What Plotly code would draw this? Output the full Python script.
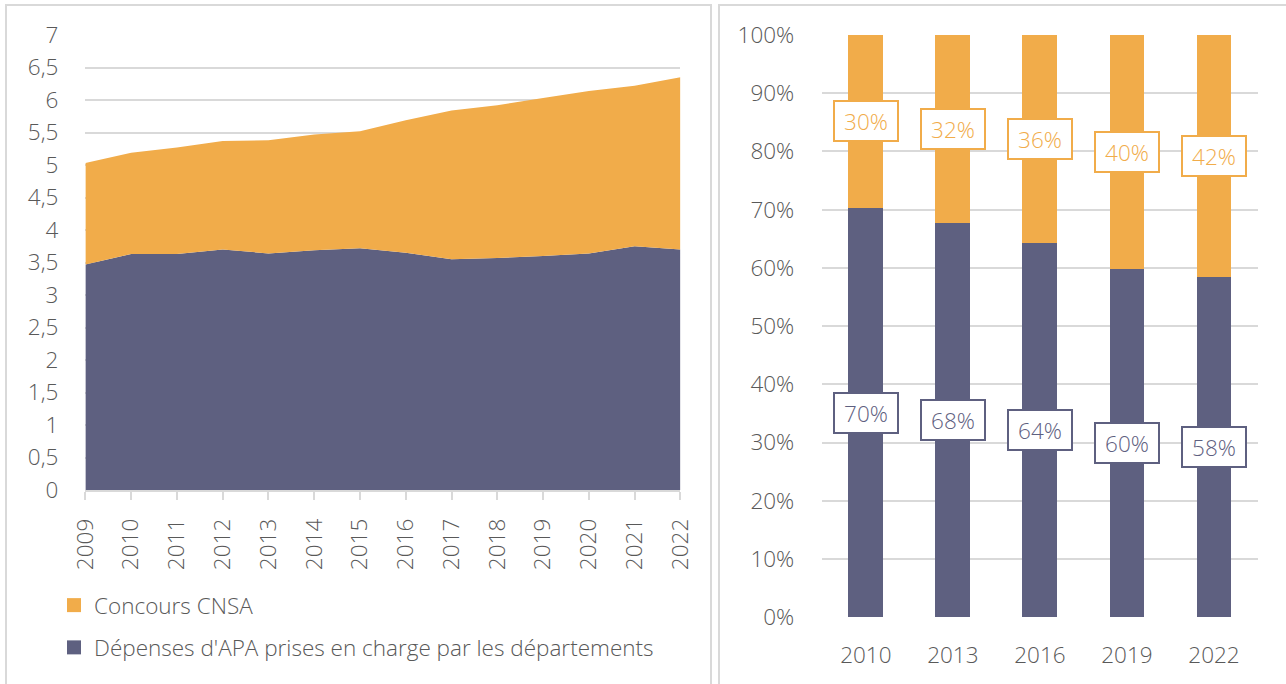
import plotly.graph_objects as go

# ---- Data ----
years = [2009, 2010, 2011, 2012, 2013, 2014, 2015, 2016, 2017, 2018, 2019, 2020, 2021, 2022]
apa_depts = [3.47, 3.63, 3.63, 3.70, 3.64, 3.69, 3.72, 3.65, 3.55, 3.57, 3.60, 3.64, 3.75, 3.70]
concours_cnsa = [1.56, 1.56, 1.64, 1.67, 1.74, 1.78, 1.80, 2.04, 2.29, 2.35, 2.43, 2.50, 2.47, 2.65]

bar_years = [2010, 2013, 2016, 2019, 2022]
share_apa = [70.3, 67.8, 64.2, 59.9, 58.4]
share_cnsa = [29.7, 32.2, 35.8, 40.1, 41.6]
label_apa = ["70%", "68%", "64%", "60%", "58%"]
label_cnsa = ["30%", "32%", "36%", "40%", "42%"]

name_cnsa = "Concours CNSA"
name_apa = "Dépenses d'APA prises en charge par les départements"

ORANGE = "#F1AC4A"
PURPLE = "#5E6080"
GRID = "#D9D9D9"
TXT = "#595959"
FONT = "Open Sans"
FS = 22.5
WT = 300

fig = go.Figure()

# Left: stacked areas
fig.add_trace(go.Scatter(x=years, y=apa_depts, stackgroup="one", mode="none",
                         fillcolor=PURPLE, name=name_apa, showlegend=False,
                         xaxis="x", yaxis="y"))
fig.add_trace(go.Scatter(x=years, y=concours_cnsa, stackgroup="one", mode="none",
                         fillcolor=ORANGE, name=name_cnsa, showlegend=False,
                         xaxis="x", yaxis="y"))
# legend entries
fig.add_trace(go.Scatter(x=[None], y=[None], mode="markers", name=name_cnsa,
                         marker=dict(symbol="square", size=14, color=ORANGE),
                         legendgroup="a", xaxis="x", yaxis="y"))
fig.add_trace(go.Scatter(x=[None], y=[None], mode="markers", name=name_apa,
                         marker=dict(symbol="square", size=14, color=PURPLE),
                         legendgroup="b", xaxis="x", yaxis="y"))

# Right: stacked 100% bars
fig.add_trace(go.Bar(x=bar_years, y=share_apa, marker_color=PURPLE, width=1.2,
                     showlegend=False, xaxis="x2", yaxis="y2"))
fig.add_trace(go.Bar(x=bar_years, y=share_cnsa, marker_color=ORANGE, width=1.2,
                     showlegend=False, xaxis="x2", yaxis="y2"))

tf = dict(family=FONT, size=FS, color=TXT, weight=WT)

annotations = []
for i, yr in enumerate(bar_years):
    for ymid, txt, col in [(share_apa[i] / 2, label_apa[i], PURPLE),
                           (share_apa[i] + share_cnsa[i] / 2, label_cnsa[i], ORANGE)]:
        annotations.append(dict(x=yr, y=ymid, xref="x2", yref="y2", text=txt,
                                showarrow=False, bgcolor="white", bordercolor=col,
                                borderwidth=2, borderpad=2, width=58, height=34,
                                font=dict(family=FONT, size=FS, color=col, weight=WT)))

shapes = [
    dict(type="rect", xref="paper", yref="paper", x0=6 / 1286, x1=711 / 1286,
         y0=-0.05, y1=1 - 5 / 684, line=dict(color=GRID, width=2)),
    dict(type="rect", xref="paper", yref="paper", x0=719 / 1286, x1=1.05,
         y0=-0.05, y1=1 - 5 / 684, line=dict(color=GRID, width=2)),
]

fig.update_layout(
    template="none",
    width=1286, height=684, autosize=False,
    margin=dict(l=0, r=0, t=0, b=0, pad=0),
    paper_bgcolor="white", plot_bgcolor="white",
    separators=", ",
    font=tf,
    barmode="stack",
    xaxis=dict(domain=[85.4 / 1286, 680.4 / 1286], range=[2009, 2022], automargin=False,
               tickvals=years, tickangle=-90, ticks="outside", ticklen=8,
               tickcolor=GRID, tickwidth=1.5, showline=True, linecolor=GRID,
               linewidth=1.5, showgrid=False, zeroline=False, ticklabelstandoff=10,
               tickfont=tf),
    yaxis=dict(domain=[(684 - 490) / 684, (684 - 35) / 684], range=[0, 7], dtick=0.5,
               automargin=False, ticks="", showline=False,
               showgrid=True, gridcolor=GRID, gridwidth=1.5, zeroline=False,
               ticklabelstandoff=26, tickfont=tf),
    xaxis2=dict(domain=[822.3 / 1286, 1257.5 / 1286], range=[2008.5, 2023.5],
                tickvals=bar_years, automargin=False,
                showgrid=False, showline=False, zeroline=False, ticks="",
                ticklabelstandoff=22, tickfont=tf, anchor="y2"),
    yaxis2=dict(domain=[(684 - 617.3) / 684, (684 - 35) / 684], range=[0, 100],
                dtick=10, ticksuffix="%", showgrid=True, gridcolor=GRID, gridwidth=1.5,
                zeroline=False, ticklabelstandoff=27, anchor="x2", automargin=False,
                ticks="", showline=False, tickfont=tf),
    legend=dict(x=54 / 1286, y=1 - 584 / 684, xanchor="left", yanchor="top",
                orientation="v", tracegroupgap=10, bgcolor="rgba(0,0,0,0)",
                font=tf),
    annotations=annotations,
    shapes=shapes,
)

fig.write_html("out.html", post_script="document.body.style.margin='0';",
               config={"displayModeBar": False})
